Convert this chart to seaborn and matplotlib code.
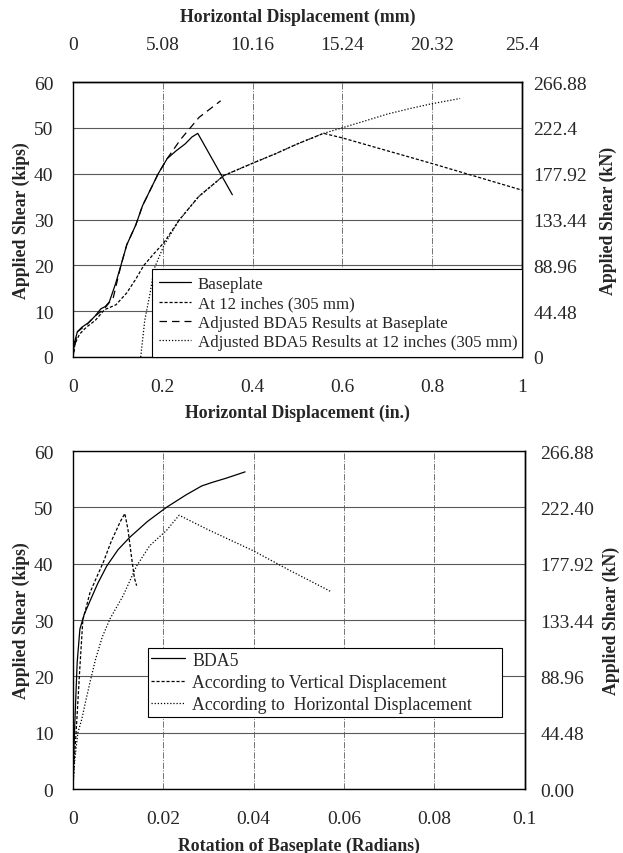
import matplotlib
matplotlib.use("Agg")
import matplotlib.pyplot as plt
import seaborn as sns
import pandas as pd

# ---------------- data: top chart (in., kips) ----------------
base_x = [0, 0.003, 0.01, 0.02, 0.035, 0.05, 0.062, 0.072, 0.081, 0.095, 0.107, 0.12, 0.14,
          0.155, 0.17, 0.19, 0.21, 0.23, 0.25, 0.265, 0.278, 0.355]
base_y = [0, 3, 5.5, 6.5, 7.5, 9, 10.5, 11, 12, 16, 20, 24.5, 28.8, 33, 36, 40, 43.3, 45,
          46.5, 48, 48.8, 35.4]

at12_x = [0, 0.005, 0.015, 0.03, 0.05, 0.07, 0.096, 0.12, 0.14, 0.158, 0.18, 0.203, 0.236,
          0.28, 0.336, 0.403, 0.45, 0.5, 0.558, 0.6, 0.7, 0.8, 0.9, 1.0]
at12_y = [0, 3, 5, 6.5, 8, 10.3, 11.4, 14, 17, 20, 22.5, 25, 29.8, 35, 39.6, 42.4, 44.3,
          46.5, 48.8, 47.8, 45, 42.2, 39.3, 36.4]

adjb_x = [0, 0.01, 0.03, 0.05, 0.07, 0.09, 0.107, 0.12, 0.14, 0.155, 0.17, 0.19, 0.21,
          0.24, 0.281, 0.329]
adjb_y = [0, 5.5, 7, 9, 10.5, 13, 20, 24.5, 28.8, 33, 36, 40, 43.3, 47.5, 52.3, 55.9]

adj12_x = [0.151, 0.16, 0.172, 0.181, 0.203, 0.236, 0.28, 0.336, 0.403, 0.45, 0.5, 0.558,
           0.596, 0.65, 0.7, 0.75, 0.796, 0.862]
adj12_y = [0, 8, 14, 19.3, 24.4, 29.8, 35, 39.6, 42.4, 44.3, 46.5, 48.8, 49.9, 51.5, 53,
           54.2, 55.2, 56.4]

top_labels = ["Baseplate", "At 12 inches (305 mm)",
              "Adjusted BDA5 Results at Baseplate",
              "Adjusted BDA5 Results at 12 inches (305 mm)"]

# ---------------- data: bottom chart (rad, kips) ----------------
bda_x = [0, 0.0002, 0.0004, 0.00066, 0.00095, 0.00155, 0.0025, 0.0038, 0.0055, 0.0075, 0.01,
         0.0126, 0.0165, 0.0207, 0.025, 0.0285, 0.0307, 0.034, 0.0381]
bda_y = [0, 6, 11, 16.6, 22.5, 28.4, 31, 33.4, 36.5, 39.6, 42.5, 44.7, 47.5, 50, 52.2, 53.8,
         54.4, 55.2, 56.3]

vert_x = [0, 0.0003, 0.0007, 0.001, 0.0015, 0.0022, 0.0038, 0.0052, 0.0067, 0.0085, 0.0105,
          0.0115, 0.0122, 0.013, 0.0136, 0.0141]
vert_y = [0, 5, 10, 14, 21, 30, 34.9, 37.5, 40.2, 44, 47.5, 48.9, 46, 41, 37.5, 36.1]

horiz_x = [0, 0.0004, 0.0011, 0.002, 0.0028, 0.0038, 0.005, 0.0065, 0.0082, 0.0111, 0.0141,
           0.017, 0.0207, 0.0235, 0.03, 0.0399, 0.048, 0.0572]
horiz_y = [0, 5, 10, 12.5, 15.5, 19, 23, 27, 30.2, 34.3, 39.6, 43.2, 45.9, 48.6, 46, 42.3,
           38.8, 35]

bottom_labels = ["BDA5", "According to Vertical Displacement",
                 "According to  Horizontal Displacement"]

# tick labels
kips_ticks = [0, 10, 20, 30, 40, 50, 60]
kn_ticks = [0, 44.48, 88.96, 133.44, 177.92, 222.4, 266.88]
kn_labels_top = ["0", "44.48", "88.96", "133.44", "177.92", "222.4", "266.88"]
kn_labels_bot = ["0.00", "44.48", "88.96", "133.44", "177.92", "222.40", "266.88"]
in_ticks = [0, 0.2, 0.4, 0.6, 0.8, 1.0]
in_labels = ["0", "0.2", "0.4", "0.6", "0.8", "1"]
mm_ticks = [0, 5.08, 10.16, 15.24, 20.32, 25.4]
mm_labels = ["0", "5.08", "10.16", "15.24", "20.32", "25.4"]
rad_ticks = [0, 0.02, 0.04, 0.06, 0.08, 0.1]
rad_labels = ["0", "0.02", "0.04", "0.06", "0.08", "0.1"]

# ---------------- style ----------------
sns.set_style("white")
plt.rcParams["font.family"] = ["Liberation Serif", "DejaVu Serif"]
plt.rcParams["axes.edgecolor"] = "black"
plt.rcParams["axes.linewidth"] = 1.0

TICK_FS = 14
LAB_FS = 12.8

fig = plt.figure(figsize=(6.23, 8.54), dpi=100)
ax1 = fig.add_axes([0.117, 0.5808, 0.721, 0.322])
ax2 = fig.add_axes([0.117, 0.0749, 0.7255, 0.3958])


def draw(ax, x, y, ls, lw=0.9):
    df = pd.DataFrame({"x": x, "y": y})
    sns.lineplot(data=df, x="x", y="y", ax=ax, color="black", linestyle=ls,
                 linewidth=lw, sort=False, estimator=None)
    return ax.lines[-1]


def style_axes(ax):
    ax.set_ylim(0, 60)
    ax.set_yticks(kips_ticks)
    ax.set_yticklabels([str(v) for v in kips_ticks])
    ax.tick_params(axis="y", length=0, pad=14, labelsize=TICK_FS)
    ax.tick_params(axis="x", length=0, pad=15, labelsize=TICK_FS)
    ax.set_axisbelow(True)
    ax.grid(True, axis="y", color="0.35", linestyle="-", linewidth=0.8)
    ax.grid(True, axis="x", color="0.45", linestyle="-.", linewidth=0.7)
    for s in ax.spines.values():
        s.set_visible(True)
        s.set_color("black")
        s.set_linewidth(1.0)
    ax.set_ylabel("Applied Shear (kips)", fontsize=LAB_FS, fontweight="bold")
    ax.yaxis.set_label_coords(-0.096, 0.5)


# ---------------- top chart ----------------
h1 = [draw(ax1, base_x, base_y, "-"),
      draw(ax1, at12_x, at12_y, (0, (2.5, 1.5))),
      draw(ax1, adjb_x, adjb_y, (0, (6, 4))),
      draw(ax1, adj12_x, adj12_y, (0, (1, 1.5)))]
ax1.set_xlim(0, 1)
ax1.set_xticks(in_ticks)
ax1.set_xticklabels(in_labels)
style_axes(ax1)
ax1.set_xlabel("Horizontal Displacement (in.)", fontsize=LAB_FS, fontweight="bold")
ax1.xaxis.set_label_coords(0.5, -0.168)

sx = ax1.secondary_xaxis("top", functions=(lambda v: v * 25.4, lambda v: v / 25.4))
sx.set_xticks(mm_ticks)
sx.set_xticklabels(mm_labels)
sx.tick_params(length=0, pad=21, labelsize=TICK_FS)
sx.set_xlabel("Horizontal Displacement (mm)", fontsize=LAB_FS, fontweight="bold", labelpad=11)

sy = ax1.secondary_yaxis("right", functions=(lambda v: v * 4.448, lambda v: v / 4.448))
sy.set_yticks(kn_ticks)
sy.set_yticklabels(kn_labels_top)
sy.tick_params(length=0, pad=8, labelsize=TICK_FS)
sy.set_ylabel("Applied Shear (kN)", fontsize=LAB_FS, fontweight="bold", labelpad=9)

leg1 = ax1.legend(h1, top_labels, loc="lower left", bbox_to_anchor=(0.176, 0.0, 0.824, 0.331),
                  mode="expand", borderaxespad=0, fontsize=12.2, frameon=True,
                  fancybox=False, framealpha=1, edgecolor="black", labelspacing=0.2,
                  borderpad=0.4, handlelength=1.9, handletextpad=0.4)
leg1.get_frame().set_linewidth(0.8)

# ---------------- bottom chart ----------------
h2 = [draw(ax2, bda_x, bda_y, "-"),
      draw(ax2, vert_x, vert_y, (0, (2.5, 1.5))),
      draw(ax2, horiz_x, horiz_y, (0, (1, 1.5)))]
ax2.set_xlim(0, 0.1)
ax2.set_xticks(rad_ticks)
ax2.set_xticklabels(rad_labels)
style_axes(ax2)
ax2.set_xlabel("Rotation of Baseplate (Radians)", fontsize=LAB_FS, fontweight="bold")
ax2.xaxis.set_label_coords(0.5, -0.142)

sy2 = ax2.secondary_yaxis("right", functions=(lambda v: v * 4.448, lambda v: v / 4.448))
sy2.set_yticks(kn_ticks)
sy2.set_yticklabels(kn_labels_bot)
sy2.tick_params(length=0, pad=11, labelsize=TICK_FS)
sy2.set_ylabel("Applied Shear (kN)", fontsize=LAB_FS, fontweight="bold", labelpad=6)

leg2 = ax2.legend(h2, bottom_labels, loc="upper left", bbox_to_anchor=(0.166, 0.0, 0.783, 0.417),
                  mode="expand", borderaxespad=0, fontsize=12.8, frameon=True,
                  fancybox=False, framealpha=1, edgecolor="black", labelspacing=0.3,
                  borderpad=0.2, handlelength=1.9, handletextpad=0.4)
leg2.get_frame().set_linewidth(0.8)

fig.savefig("out.png", dpi=100)
